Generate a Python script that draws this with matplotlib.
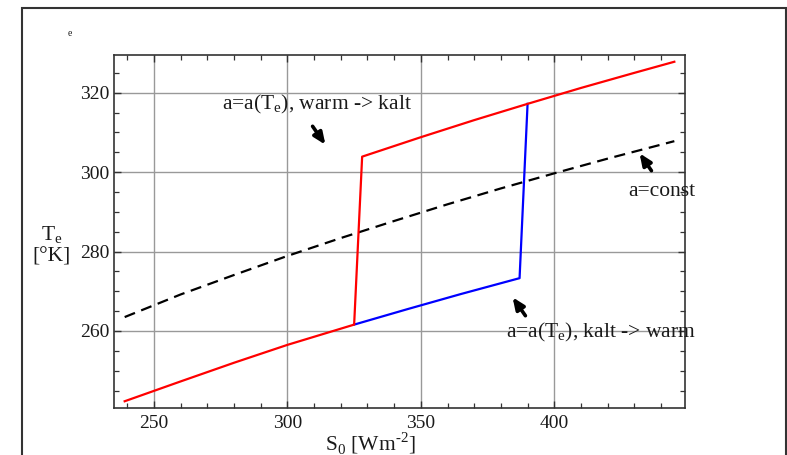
import matplotlib
matplotlib.use("Agg")
import matplotlib.pyplot as plt
from matplotlib.patches import Rectangle
from matplotlib.ticker import MultipleLocator

plt.rcParams['font.family'] = ['Liberation Serif', 'DejaVu Serif']
plt.rcParams['mathtext.fontset'] = 'custom'
plt.rcParams['mathtext.rm'] = 'Liberation Serif'

W, H = 787, 455

# Werte
s_const = [239, 260, 280, 300, 320, 340, 360, 380, 400, 420, 445]
t_const = [263.5, 269.2, 274.1, 278.9, 283.4, 287.7, 291.9, 295.9, 299.7, 303.4, 307.8]

# warm -> kalt (rot): unterer Ast, Sprung, oberer Ast
s_red = [239, 260, 280, 300, 325, 328, 350, 370, 390, 410, 430, 445]
t_red = [242.3, 247.3, 252.0, 256.5, 261.6, 303.9, 308.8, 313.1, 317.2, 321.2, 325.0, 327.8]

# kalt -> warm (blau)
s_blue = [325, 345, 365, 387, 390]
t_blue = [261.6, 265.5, 269.3, 273.3, 317.2]

x_ticks = [250, 300, 350, 400]
y_ticks = [260, 280, 300, 320]


def fx(px):
    return px / W


def fy(py):
    return 1 - py / H


fig = plt.figure(figsize=(W/100, H/100), dpi=100)
ax = fig.add_axes([fx(114), fy(408), (685 - 114)/W, (408 - 55)/H])

ax.plot(s_blue, t_blue, color='#0000ff', lw=1.6, zorder=3)
ax.plot(s_red, t_red, color='#ff0000', lw=1.6, zorder=4)
ax.plot(s_const, t_const, color='black', lw=1.6, ls=(0, (5, 3)), zorder=3)

ax.set_xlim(235, 449)
ax.set_ylim(240.6, 329.5)
ax.set_xticks(x_ticks)
ax.set_yticks(y_ticks)
ax.xaxis.set_minor_locator(MultipleLocator(10))
ax.yaxis.set_minor_locator(MultipleLocator(5))
ax.grid(True, which='major', color='#999999', lw=1.0, zorder=0)
ax.tick_params(which='both', direction='in', top=True, right=True,
               labelsize=14, colors='#333333', labelcolor='#1a1a1a')
ax.tick_params(which='major', length=5, width=1)
ax.tick_params(which='minor', length=3.5, width=0.9)
ax.tick_params(axis='x', pad=5)
for sp in ax.spines.values():
    sp.set_color('#333333')
    sp.set_linewidth(1.2)

fs = 15.5
tc = '#1a1a1a'
fig.text(fx(222), fy(104), r'a=a(T$_{\rm e}$), warm -> kalt', fontsize=fs,
         va='center', ha='left', color=tc)
fig.text(fx(628), fy(191), 'a=const', fontsize=fs, va='center', ha='left', color=tc)
fig.text(fx(506), fy(332), r'a=a(T$_{\rm e}$), kalt -> warm', fontsize=fs,
         va='center', ha='left', color=tc)

arrow = dict(arrowstyle='-|>,head_length=0.7,head_width=0.3', color='black', lw=2.6)
for (x0, y0), (x1, y1) in [((311, 124), (327, 147)),
                           ((653, 173), (638, 151)),
                           ((527, 318), (511, 295))]:
    ax.annotate('', xy=(fx(x1), fy(y1)), xytext=(fx(x0), fy(y0)),
                xycoords='figure fraction', textcoords='figure fraction',
                arrowprops=arrow)

fig.text(fx(52), fy(235), r'T$_{\rm e}$', fontsize=fs, ha='center', va='center', color=tc)
fig.text(fx(52), fy(257), '[°K]', fontsize=fs, ha='center', va='center', color=tc)
fig.text(fx(370), fy(443), r'S$_{\rm 0}$ [Wm$^{\text{-2}}$]', fontsize=fs,
         ha='center', va='center', color=tc)
fig.text(fx(70), fy(33), 'e', fontsize=7, ha='center', va='center', color=tc)

fig.patches.append(Rectangle((fx(22), -0.05), (785.5 - 22)/W, 1.05 - 8/H,
                             transform=fig.transFigure, fill=False,
                             edgecolor='#333333', lw=1.5))

fig.savefig('out.png', dpi=100)
